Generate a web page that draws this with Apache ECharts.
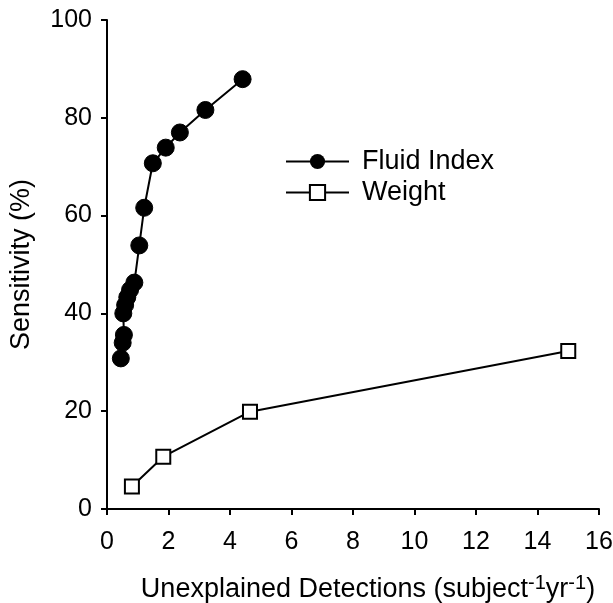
<!DOCTYPE html>
<html><head><meta charset="utf-8">
<script src="https://cdn.jsdelivr.net/npm/echarts@6/dist/echarts.min.js"></script>
<style>html,body{margin:0;padding:0;background:#fff}#c{width:613px;height:603px}</style>
</head><body><div id="c"></div>
<script>
const fluidX = [4.41, 3.20, 2.37, 1.91, 1.49, 1.21, 1.05, 0.89, 0.75, 0.66, 0.59, 0.53, 0.55, 0.51, 0.45];
const fluidY = [87.9, 81.6, 77.0, 73.9, 70.7, 61.6, 53.9, 46.3, 44.8, 43.3, 41.7, 40.0, 35.6, 34.0, 30.8];
const weightX = [0.81, 1.83, 4.65, 15.0];
const weightY = [4.6, 10.7, 19.9, 32.3];
const xTicks = [0, 2, 4, 6, 8, 10, 12, 14, 16];
const yTicks = [0, 20, 40, 60, 80, 100];

const font = 'Liberation Sans, Arial, sans-serif';
const chart = echarts.init(document.getElementById('c'), null, {renderer: 'canvas'});
chart.setOption({
  animation: false,
  backgroundColor: '#fff',
  textStyle: {fontFamily: font, color: '#000'},
  grid: {left: 107, right: 14, top: 20, bottom: 94, containLabel: false, outerBoundsMode: 'none'},
  legend: {
    left: 280, top: 143, orient: 'vertical', itemWidth: 63, itemHeight: 19, itemGap: 4,
    textStyle: {fontSize: 27, color: '#000', fontFamily: font, padding: [0,0,0,8]},
    data: ['Fluid Index', 'Weight']
  },
  xAxis: {
    type: 'value', min: xTicks[0], max: xTicks[xTicks.length-1], interval: 2,
    axisLine: {lineStyle: {color: '#000', width: 2}},
    axisTick: {length: 6, lineStyle: {color: '#000', width: 2}},
    axisLabel: {fontSize: 25, color: '#000', margin: 21, fontFamily: font},
    splitLine: {show: false},
    name: '{a|Unexplained Detections (subject}{s|-1}{a|yr}{s|-1}{a|)}',
    nameLocation: 'middle', nameGap: 66,
    nameTextStyle: {
      padding: [0, 0, 0, 30],
      rich: {
        a: {fontSize: 27, color: '#000', fontFamily: font, lineHeight: 30},
        s: {fontSize: 20, color: '#000', fontFamily: font, padding: [0,0,14,0], lineHeight: 30}
      }
    }
  },
  yAxis: {
    type: 'value', min: yTicks[0], max: yTicks[yTicks.length-1], interval: 20,
    axisLine: {show: true, lineStyle: {color: '#000', width: 2}},
    axisTick: {show: true, length: 6, lineStyle: {color: '#000', width: 2}},
    axisLabel: {fontSize: 25, color: '#000', margin: 15, fontFamily: font},
    splitLine: {show: false},
    name: 'Sensitivity (%)', nameLocation: 'middle', nameGap: 72,
    nameTextStyle: {fontSize: 27, color: '#000', fontFamily: font}
  },
  series: [
    {
      name: 'Fluid Index', type: 'line',
      data: fluidX.map((x, i) => [x, fluidY[i]]),
      symbol: 'circle', symbolSize: 17,
      lineStyle: {color: '#000', width: 2},
      itemStyle: {color: '#000', borderColor: '#000'},
      z: 3
    },
    {
      name: 'Weight', type: 'line',
      data: weightX.map((x, i) => [x, weightY[i]]),
      symbol: 'rect', symbolSize: 14,
      lineStyle: {color: '#000', width: 2},
      itemStyle: {color: '#fff', borderColor: '#000', borderWidth: 2},
      z: 2
    }
  ]
});
</script></body></html>
